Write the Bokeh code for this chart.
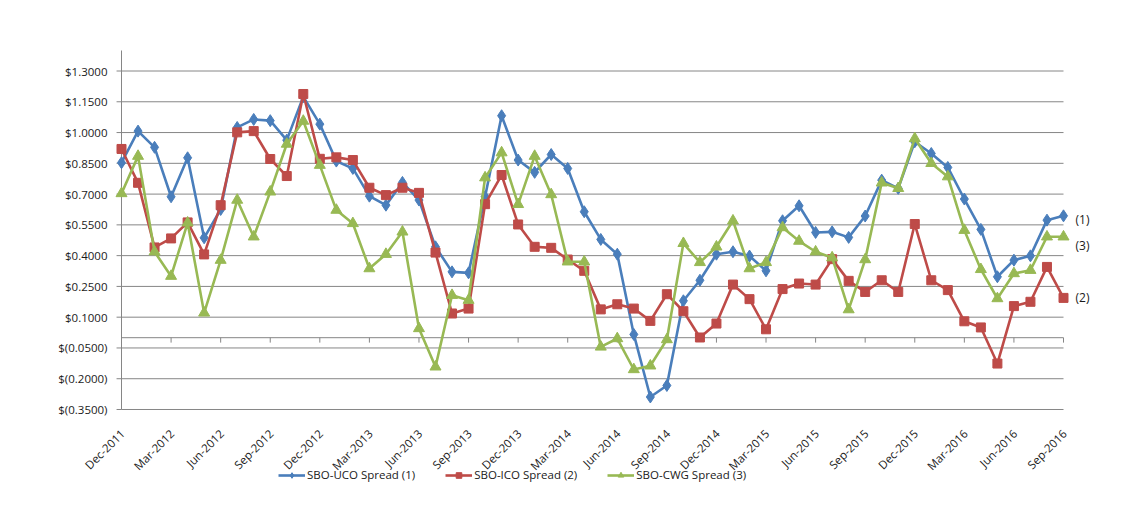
import math
import pandas as pd
from bokeh.plotting import figure
from bokeh.models import ColumnDataSource, Legend, LegendItem
from bokeh.core.properties import value
from bokeh.embed import file_html
from bokeh.resources import INLINE

# ---------------- data ----------------
months = pd.date_range("2011-12-01", "2016-09-01", freq="MS").strftime("%b-%Y").tolist()

uco_spread = [0.853, 1.007, 0.928, 0.687, 0.877, 0.487, 0.625, 1.025, 1.064, 1.058,
              0.963, 1.175, 1.041, 0.861, 0.825, 0.690, 0.646, 0.757, 0.671, 0.443,
              0.321, 0.316, 0.687, 1.082, 0.866, 0.806, 0.893, 0.825, 0.614, 0.479,
              0.407, 0.016, -0.289, -0.233, 0.180, 0.280, 0.407, 0.419, 0.398, 0.326,
              0.570, 0.643, 0.513, 0.516, 0.489, 0.593, 0.768, 0.728, 0.955, 0.898,
              0.830, 0.676, 0.528, 0.297, 0.378, 0.399, 0.573, 0.594]

ico_spread = [0.920, 0.755, 0.440, 0.484, 0.562, 0.406, 0.646, 1.001, 1.007, 0.871,
              0.788, 1.188, 0.872, 0.879, 0.866, 0.731, 0.695, 0.731, 0.706, 0.415,
              0.118, 0.142, 0.651, 0.793, 0.552, 0.443, 0.438, 0.381, 0.326, 0.138,
              0.163, 0.142, 0.082, 0.212, 0.129, 0.001, 0.069, 0.259, 0.188, 0.041,
              0.237, 0.264, 0.259, 0.383, 0.277, 0.223, 0.280, 0.223, 0.554, 0.280,
              0.232, 0.080, 0.050, -0.126, 0.154, 0.175, 0.345, 0.194]

cwg_spread = [0.703, 0.885, 0.419, 0.300, 0.560, 0.121, 0.378, 0.671, 0.492, 0.711,
              0.944, 1.056, 0.841, 0.622, 0.557, 0.337, 0.407, 0.516, 0.045, -0.142,
              0.207, 0.183, 0.780, 0.902, 0.650, 0.885, 0.698, 0.370, 0.370, -0.045,
              -0.004, -0.155, -0.137, -0.009, 0.460, 0.367, 0.443, 0.570, 0.337, 0.367,
              0.537, 0.471, 0.419, 0.390, 0.137, 0.381, 0.755, 0.728, 0.971, 0.850,
              0.785, 0.524, 0.333, 0.191, 0.313, 0.329, 0.492, 0.492]

series_names = ["SBO-UCO Spread (1)", "SBO-ICO Spread (2)", "SBO-CWG Spread (3)"]
end_labels = ["(1)", "(2)", "(3)"]

y_ticks = [-0.35, -0.2, -0.05, 0.1, 0.25, 0.4, 0.55, 0.7, 0.85, 1.0, 1.15, 1.3]
y_tick_labels = ["$(0.3500)", "$(0.2000)", "$(0.0500)", "$0.1000", "$0.2500", "$0.4000",
                 "$0.5500", "$0.7000", "$0.8500", "$1.0000", "$1.1500", "$1.3000"]

# ---------------- figure ----------------
FONT = "Open Sans"
GRID = "#868686"
TXT = "#1a1a1a"

x = list(range(len(months)))
last = len(months) - 1
src = ColumnDataSource(dict(x=x, month=months, uco=uco_spread, ico=ico_spread, cwg=cwg_spread))

Y_MIN, Y_TOP = y_ticks[0], 1.40          # plot-area extent on the value axis

p = figure(width=1130, height=500, output_backend="svg", toolbar_location=None,
           x_range=(-7.322, 61.054), y_range=(-0.7936, 1.6437),
           x_axis_location=None, y_axis_location=None, min_border=0)
p.outline_line_color = None
p.background_fill_color = "white"
p.border_fill_color = "white"
p.xgrid.grid_line_color = None
p.ygrid.grid_line_color = None

n = len(y_ticks)
# horizontal gridlines
p.segment(x0=[0] * n, y0=y_ticks, x1=[last] * n, y1=y_ticks, line_color=GRID, line_width=1)
# value axis line, ticks and labels
p.segment(x0=[0], y0=[Y_MIN], x1=[0], y1=[Y_TOP], line_color=GRID, line_width=1)
p.segment(x0=[-0.3] * n, y0=y_ticks, x1=[0] * n, y1=y_ticks, line_color=GRID, line_width=1)
p.text(x=[0] * n, y=y_ticks, text=y_tick_labels, x_offset=-14,
       text_font=value(FONT), text_font_size="11.5px", text_color=TXT,
       text_align="right", text_baseline="middle")

# category axis line at zero with ticks; labels at the bottom
x_tick_idx = x[::3]
x_tick_labels = [months[i] for i in x_tick_idx]
p.segment(x0=[0], y0=[0], x1=[last], y1=[0], line_color=GRID, line_width=1)
p.segment(x0=x_tick_idx, y0=[0] * len(x_tick_idx), x1=x_tick_idx,
          y1=[-0.024] * len(x_tick_idx), line_color=GRID, line_width=1)
p.text(x=x_tick_idx, y=[Y_MIN] * len(x_tick_idx), text=x_tick_labels,
       angle=math.pi / 4, x_offset=1, y_offset=22,
       text_font=value(FONT), text_font_size="11.5px", text_color=TXT,
       text_align="right", text_baseline="middle")

colors = ["#4A7EBB", "#BE4B48", "#98B954"]
cols = ["uco", "ico", "cwg"]
markers = ["diamond", "square", "triangle"]
msizes = [12, 9, 11]

items = []
for col, c, m, ms, name in zip(cols, colors, markers, msizes, series_names):
    lr = p.line("x", col, source=src, line_color=c, line_width=2.6)
    sr = p.scatter("x", col, source=src, marker=m, size=ms, fill_color=c, line_color=c)
    items.append(LegendItem(label=name, renderers=[lr, sr]))

# right-end labels
y_offs = [4, 0, 9]
for col, lab, yo in zip(cols, end_labels, y_offs):
    p.text(x=[last], y=[src.data[col][last]], text=[lab], x_offset=12, y_offset=yo,
           text_font=value(FONT), text_font_size="12px", text_color=TXT,
           text_baseline="middle", text_align="left")

legend = Legend(items=items, orientation="horizontal", location=(278, 18),
                label_text_font=FONT, label_text_font_size="11.5px", label_text_color=TXT,
                glyph_width=27, glyph_height=14, label_standoff=2, spacing=30,
                padding=0, margin=0, border_line_color=None, background_fill_alpha=0)
p.add_layout(legend, "center")

open("out.html", "w").write(file_html(p, INLINE))
